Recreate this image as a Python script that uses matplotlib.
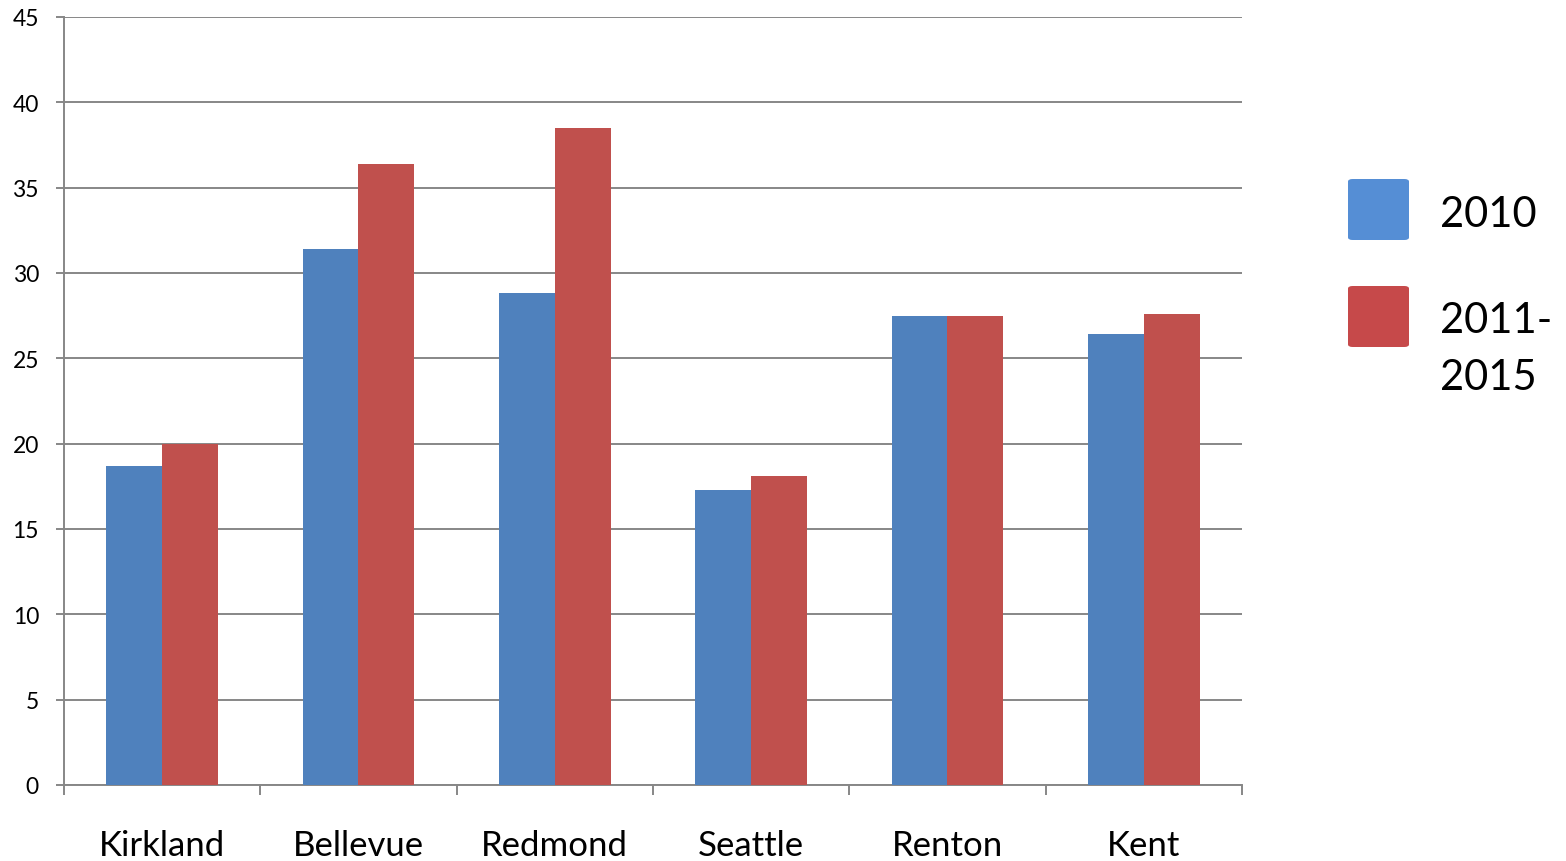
import numpy as np
import matplotlib
matplotlib.use("Agg")
import matplotlib.pyplot as plt
from matplotlib.patches import FancyBboxPatch

plt.rcParams['font.family'] = ['Lato', 'DejaVu Sans']

# data
cities = ['Kirkland', 'Bellevue', 'Redmond', 'Seattle', 'Renton', 'Kent']
vals_2010 = [18.7, 31.4, 28.8, 17.3, 27.5, 26.4]
vals_2011_2015 = [20.0, 36.4, 38.5, 18.1, 27.5, 27.6]
series_names = ['2010', '2011-', '2015']

bar_blue = '#4F81BD'
bar_red = '#C0504D'
leg_blue = '#558ED5'
leg_red = '#C6494A'
grid_col = '#878787'

fig = plt.figure(figsize=(15.66, 8.62), dpi=100)
W, H = 1566, 862
ax = fig.add_axes([64 / W, 1 - 786 / H, (1242 - 64) / W, (786 - 18) / H])

x = np.arange(len(cities))
w = 0.285
ax.bar(x - w / 2, vals_2010, w, color=bar_blue, zorder=3)
ax.bar(x + w / 2, vals_2011_2015, w, color=bar_red, zorder=3)

ax.set_xlim(-0.5, len(cities) - 0.5)
ax.set_ylim(0, 45)
ax.set_yticks(np.arange(0, 46, 5))
ax.yaxis.grid(True, color=grid_col, linewidth=1.4, zorder=0)
ax.tick_params(axis='y', length=6, width=1.4, color=grid_col, labelsize=16.5, pad=12)

# category boundaries carry the tick marks, names sit at the centres
ax.set_xticks(np.arange(-0.5, len(cities), 1.0))
ax.set_xticklabels([])
ax.set_xticks(x, minor=True)
ax.set_xticklabels(cities, minor=True, fontsize=25)
ax.tick_params(axis='x', which='major', length=7, width=1.4, color=grid_col)
ax.tick_params(axis='x', which='minor', length=0, pad=32)

for side in ['top', 'right']:
    ax.spines[side].set_visible(False)
for side in ['left', 'bottom']:
    ax.spines[side].set_color(grid_col)
    ax.spines[side].set_linewidth(1.4)

# legend drawn by hand to match the original layout
for y0, col in [(180, leg_blue), (287, leg_red)]:
    box = FancyBboxPatch((1348 / W, 1 - (y0 + 61) / H), 61 / W, 61 / H,
                         boxstyle='round,pad=0,rounding_size=0.003',
                         transform=fig.transFigure, facecolor=col,
                         edgecolor='none')
    fig.add_artist(box)
for name, base in zip(series_names, [227, 333, 390]):
    fig.text(1440 / W, 1 - base / H, name, fontsize=30, va='baseline', ha='left')

fig.savefig('out.png', dpi=100)
